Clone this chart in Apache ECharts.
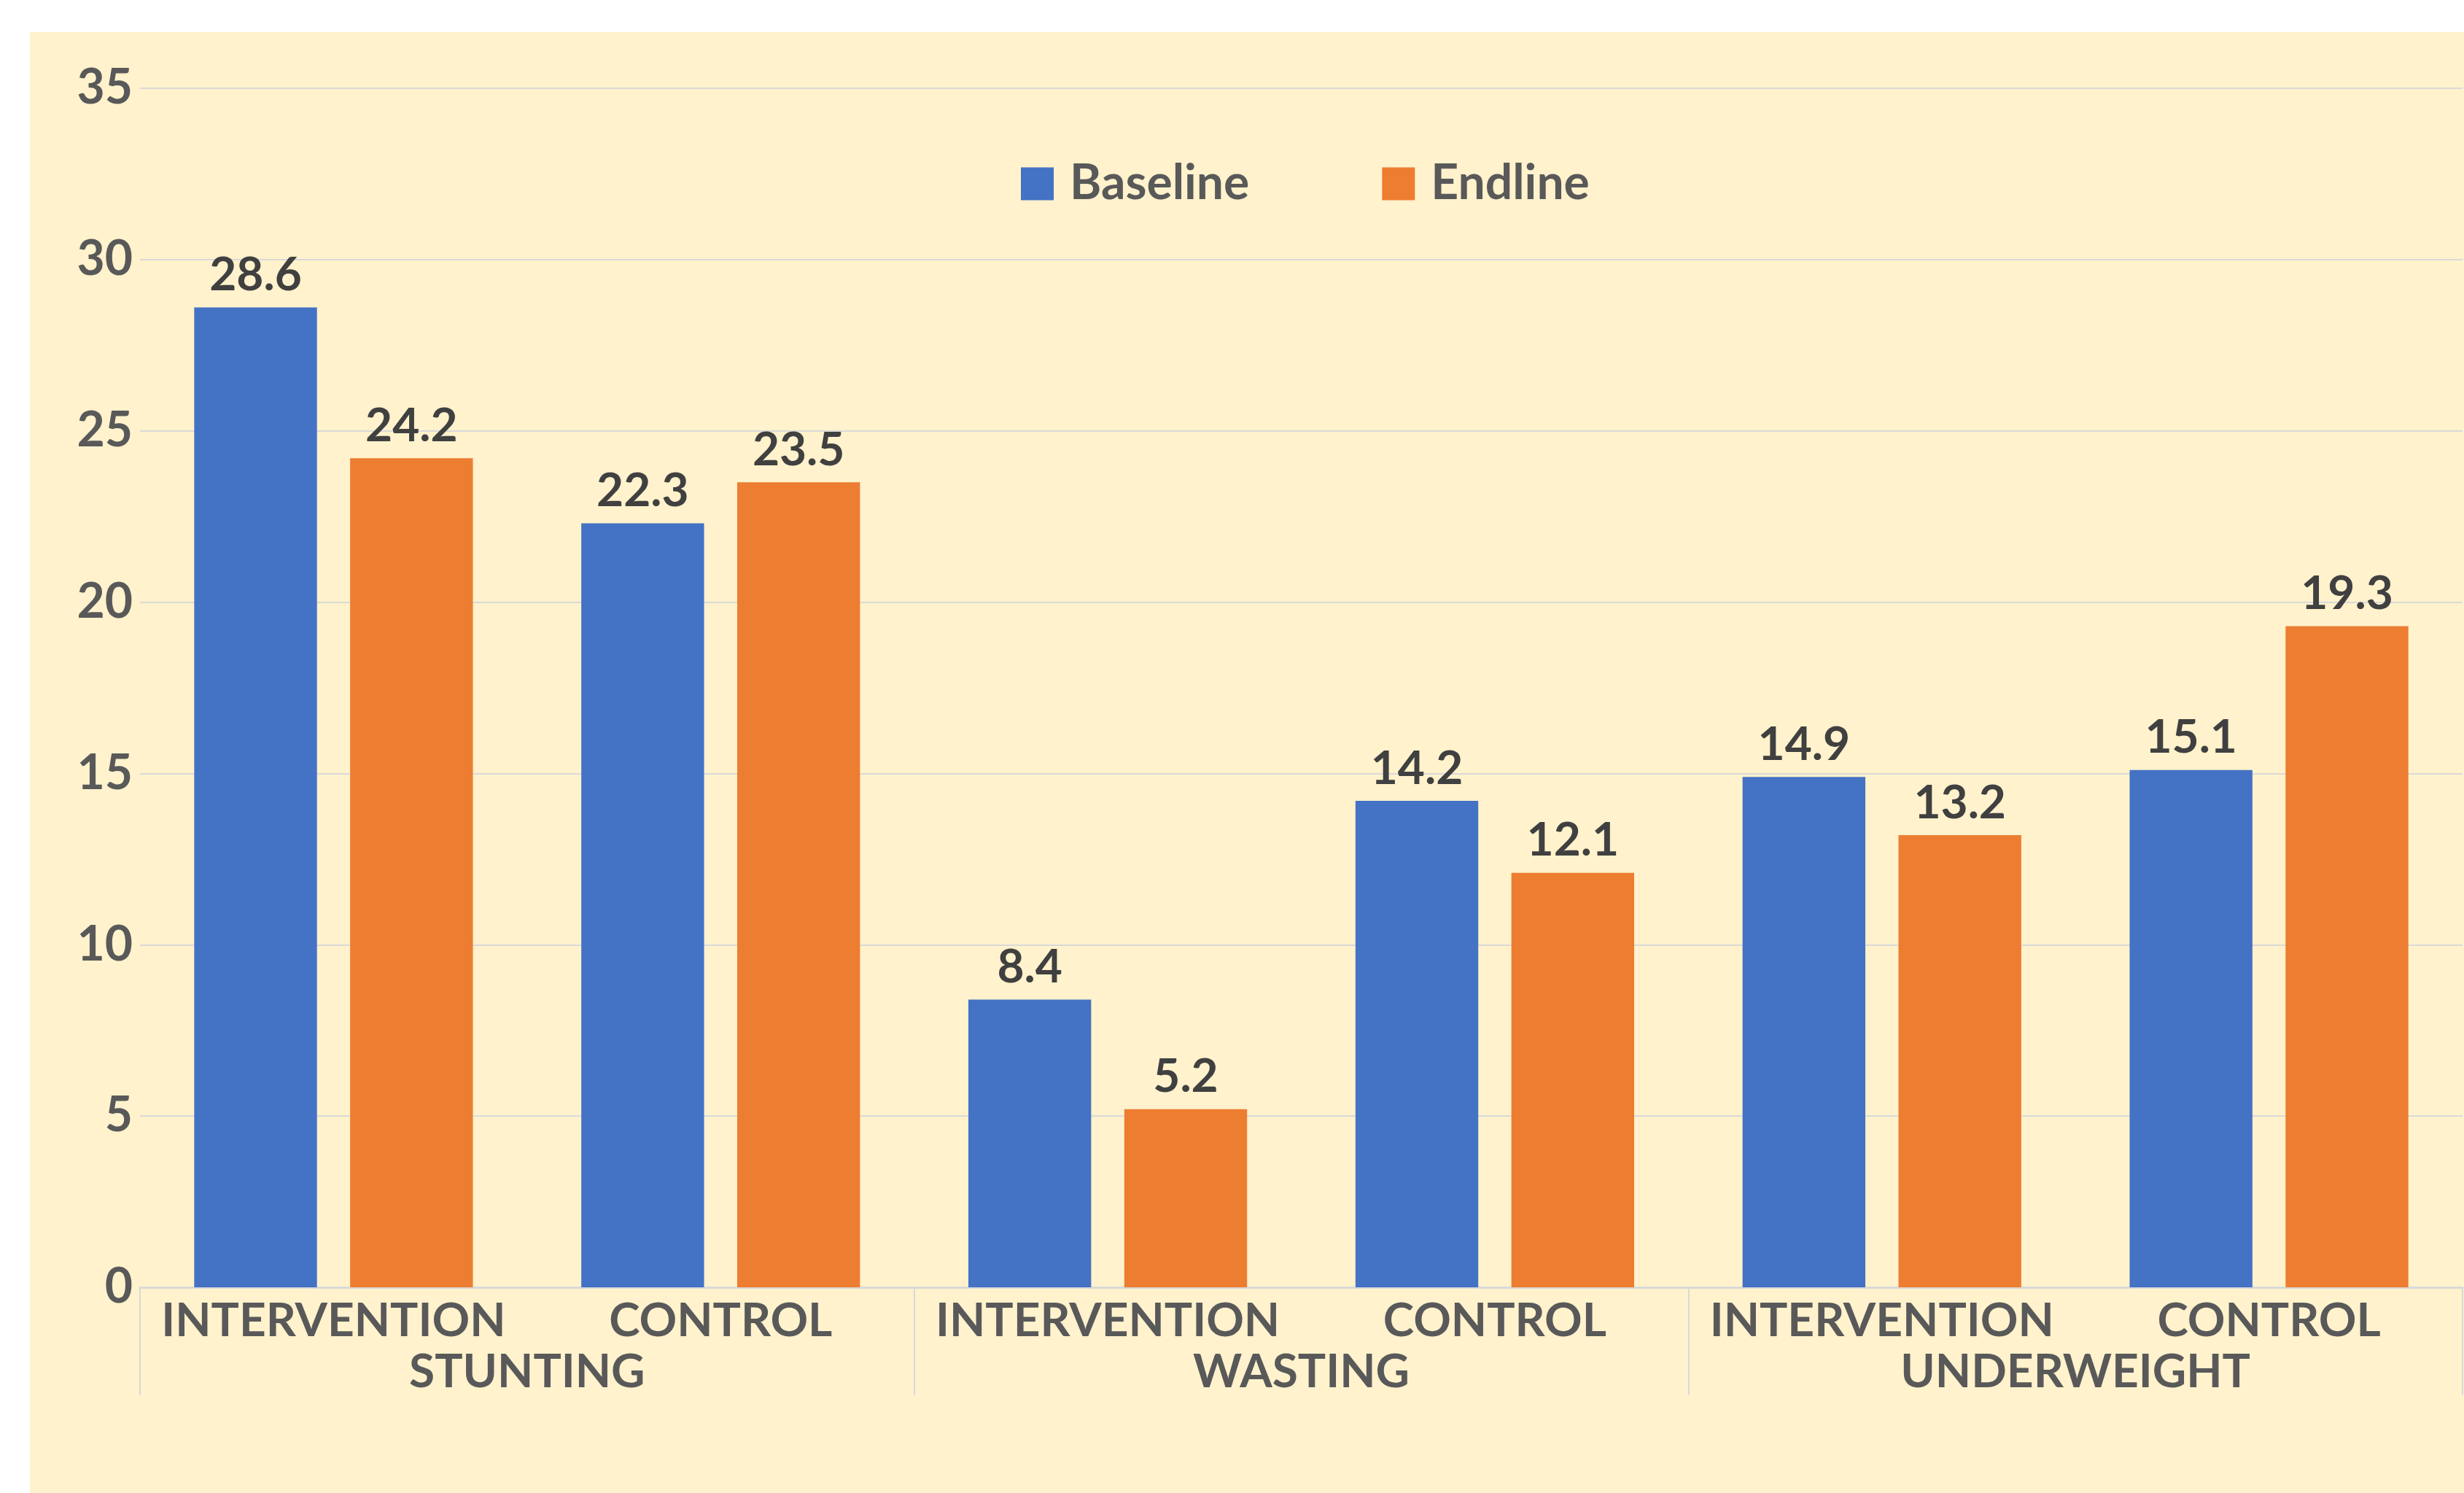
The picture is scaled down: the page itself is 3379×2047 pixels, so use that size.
<!DOCTYPE html>
<html>
<head>
<meta charset="utf-8">
<script src="https://cdn.jsdelivr.net/npm/echarts@6/dist/echarts.min.js"></script>
<style>
  html, body {
    margin: 0;
    padding: 0;
    background: #ffffff;
    width: 3379px;
    height: 2047px;
    overflow: hidden;
  }
  #myChart {
    position: absolute;
    left: 41px;
    top: 44px;
    width: 3338px;
    height: 2003px;
    background: #FFF2CC;
  }
</style>
</head>
<body>
<div id="myChart"></div>
<script>
  // sub categories (lower level) and groups (upper level)
  const categories = ['INTERVENTION', 'CONTROL', 'INTERVENTION', 'CONTROL', 'INTERVENTION', 'CONTROL'];
  const groups = ['STUNTING', 'WASTING', 'UNDERWEIGHT'];
  const baseline = [28.6, 22.3, 8.4, 14.2, 14.9, 15.1];
  const endline = [24.2, 23.5, 5.2, 12.1, 13.2, 19.3];
  const seriesNames = ['Baseline', 'Endline'];

  const font = 'Lato, "Open Sans", sans-serif';
  const axisColor = '#595959';

  let myChart = echarts.init(document.getElementById('myChart'));

  myChart.setOption({
    backgroundColor: 'transparent',
    animation: false,
    textStyle: {
      fontFamily: font
    },
    color: ['#4472C4', '#ED7D31'],
    legend: {
      data: seriesNames,
      left: 1359,
      top: 175,
      padding: 0,
      itemWidth: 45,
      itemHeight: 45,
      itemGap: 182,
      icon: 'rect',
      textStyle: {
        fontSize: 66,
        fontWeight: 'bold',
        color: axisColor,
        fontFamily: font,
        padding: [0, 0, 0, 17]
      }
    },
    grid: {
      left: 151,
      right: 2,
      top: 77,
      bottom: 282,
      containLabel: false
    },
    xAxis: [{
        type: 'category',
        data: categories,
        position: 'bottom',
        axisLine: {
          show: true,
          lineStyle: {
            color: '#D9D9D9',
            width: 3
          }
        },
        axisTick: {
          show: false
        },
        axisLabel: {
          interval: 0,
          margin: 14,
          fontSize: 64,
          fontWeight: 'bold',
          color: axisColor,
          fontFamily: font
        }
      },
      {
        type: 'category',
        data: groups,
        position: 'bottom',
        axisLine: {
          show: false
        },
        axisTick: {
          show: true,
          length: 148,
          lineStyle: {
            color: '#D9D9D9',
            width: 2
          }
        },
        axisLabel: {
          interval: 0,
          margin: 84,
          fontSize: 64,
          fontWeight: 'bold',
          color: axisColor,
          fontFamily: font
        }
      }
    ],
    yAxis: {
      type: 'value',
      min: 0,
      max: 35,
      interval: 5,
      axisLine: {
        show: false
      },
      axisTick: {
        show: false
      },
      splitLine: {
        lineStyle: {
          color: '#D9D9D9',
          width: 2
        }
      },
      axisLabel: {
        margin: 10,
        fontSize: 66,
        fontWeight: 'bold',
        color: axisColor,
        fontFamily: font
      }
    },
    series: [{
        name: seriesNames[0],
        type: 'bar',
        xAxisIndex: 0,
        barCategoryGap: '28%',
        barGap: '27%',
        data: baseline,
        label: {
          show: true,
          position: 'top',
          distance: 12,
          fontSize: 64,
          fontWeight: 'bold',
          color: '#404040',
          fontFamily: font
        }
      },
      {
        name: seriesNames[1],
        type: 'bar',
        xAxisIndex: 0,
        barCategoryGap: '28%',
        barGap: '27%',
        data: endline,
        label: {
          show: true,
          position: 'top',
          distance: 12,
          fontSize: 64,
          fontWeight: 'bold',
          color: '#404040',
          fontFamily: font
        }
      }
    ]
  });
</script>
</body>
</html>
